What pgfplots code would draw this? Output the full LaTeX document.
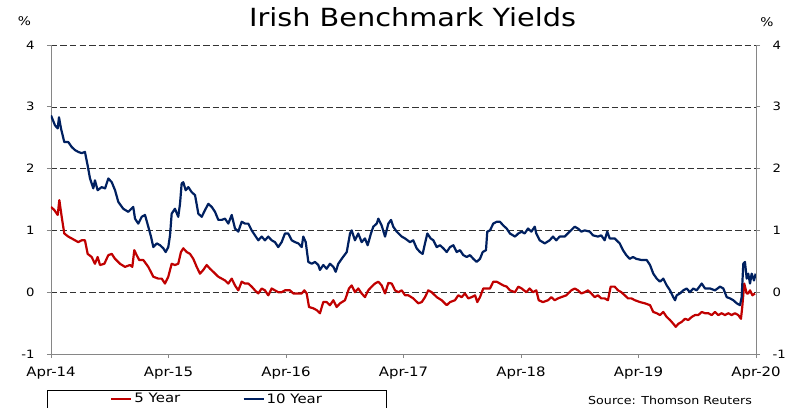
\documentclass[border=0pt]{standalone}
\usepackage{pgfplots}
\pgfplotsset{compat=1.18}
\usepackage{pgfplotstable}
\usepackage{fontspec}
\setmainfont{DejaVu Sans}[FakeStretch=1.15]
\definecolor{fiveyr}{RGB}{192,0,0}
\definecolor{tenyr}{RGB}{0,32,96}
\definecolor{axgrey}{RGB}{134,134,134}

\pgfplotstableread{
x y
0.000 2.86
0.034 2.70
0.057 2.65
0.068 2.83
0.085 2.65
0.113 2.43
0.147 2.43
0.176 2.35
0.204 2.30
0.232 2.27
0.261 2.25
0.289 2.27
0.312 2.05
0.332 1.84
0.360 1.68
0.374 1.81
0.397 1.65
0.431 1.70
0.460 1.68
0.488 1.84
0.517 1.78
0.545 1.65
0.573 1.46
0.615 1.35
0.658 1.30
0.700 1.38
0.715 1.19
0.743 1.11
0.772 1.22
0.800 1.25
0.828 1.06
0.851 0.90
0.871 0.73
0.900 0.79
0.928 0.76
0.956 0.71
0.976 0.65
0.998 0.73
1.013 0.92
1.027 1.27
1.055 1.35
1.083 1.22
1.098 1.43
1.112 1.76
1.126 1.78
1.146 1.65
1.169 1.70
1.197 1.62
1.226 1.57
1.254 1.27
1.283 1.22
1.311 1.33
1.339 1.43
1.368 1.38
1.396 1.30
1.424 1.17
1.453 1.17
1.481 1.19
1.509 1.11
1.538 1.25
1.566 1.03
1.594 0.98
1.623 1.14
1.651 1.11
1.679 1.11
1.708 1.00
1.736 0.92
1.764 0.84
1.793 0.90
1.821 0.84
1.849 0.90
1.878 0.84
1.906 0.81
1.934 0.73
1.963 0.81
1.991 0.95
2.019 0.95
2.049 0.84
2.077 0.81
2.105 0.79
2.134 0.73
2.147 0.90
2.168 0.81
2.190 0.49
2.219 0.46
2.247 0.49
2.275 0.44
2.289 0.36
2.317 0.44
2.346 0.38
2.374 0.46
2.403 0.41
2.423 0.33
2.445 0.46
2.474 0.54
2.517 0.65
2.545 0.95
2.559 1.00
2.587 0.84
2.615 0.95
2.644 0.81
2.672 0.87
2.695 0.76
2.723 0.95
2.743 1.06
2.772 1.11
2.786 1.19
2.814 1.08
2.843 0.90
2.871 1.11
2.894 1.17
2.913 1.06
2.942 0.98
2.985 0.90
3.013 0.87
3.055 0.81
3.083 0.84
3.112 0.71
3.140 0.65
3.163 0.62
3.183 0.79
3.203 0.95
3.231 0.87
3.254 0.84
3.283 0.73
3.311 0.76
3.339 0.71
3.368 0.65
3.396 0.73
3.424 0.76
3.453 0.65
3.481 0.68
3.509 0.60
3.538 0.57
3.566 0.60
3.594 0.54
3.623 0.49
3.651 0.54
3.674 0.65
3.702 0.68
3.713 0.98
3.736 1.00
3.764 1.11
3.793 1.14
3.821 1.14
3.849 1.08
3.878 1.03
3.906 0.95
3.949 0.90
3.977 0.95
4.006 0.98
4.031 0.95
4.060 1.03
4.088 0.98
4.117 1.06
4.130 0.95
4.159 0.84
4.202 0.79
4.244 0.84
4.272 0.90
4.300 0.84
4.329 0.90
4.372 0.90
4.414 0.98
4.457 1.06
4.485 1.03
4.513 0.98
4.542 1.00
4.585 0.98
4.613 0.92
4.655 0.90
4.683 0.92
4.712 0.84
4.734 0.98
4.755 0.87
4.797 0.87
4.840 0.79
4.868 0.68
4.896 0.60
4.925 0.54
4.953 0.57
4.981 0.54
5.027 0.52
5.070 0.52
5.098 0.44
5.126 0.30
5.155 0.22
5.183 0.17
5.211 0.22
5.240 0.11
5.268 0.03
5.296 -0.08
5.311 -0.13
5.325 -0.05
5.353 -0.02
5.381 0.03
5.410 0.06
5.438 0.00
5.466 0.06
5.495 0.03
5.538 0.14
5.566 0.06
5.609 0.06
5.651 0.03
5.694 0.09
5.722 0.06
5.751 -0.08
5.779 -0.10
5.807 -0.13
5.836 -0.18
5.864 -0.21
5.878 -0.08
5.892 0.46
5.906 0.49
5.921 0.22
5.934 0.30
5.949 0.14
5.963 0.30
5.983 0.19
5.997 0.30
}\tenyear

\pgfplotstableread{
x y
0.000 1.38
0.028 1.33
0.057 1.25
0.071 1.49
0.091 1.22
0.113 0.95
0.147 0.90
0.176 0.87
0.204 0.84
0.232 0.81
0.261 0.84
0.289 0.84
0.312 0.62
0.346 0.57
0.374 0.46
0.397 0.57
0.417 0.44
0.454 0.46
0.488 0.60
0.517 0.62
0.545 0.54
0.587 0.46
0.630 0.41
0.672 0.44
0.692 0.41
0.709 0.68
0.729 0.60
0.751 0.52
0.786 0.52
0.828 0.41
0.871 0.25
0.913 0.22
0.942 0.22
0.970 0.14
0.998 0.25
1.027 0.46
1.055 0.44
1.083 0.46
1.106 0.65
1.126 0.71
1.155 0.65
1.183 0.62
1.211 0.54
1.240 0.41
1.268 0.30
1.296 0.36
1.325 0.44
1.353 0.38
1.381 0.33
1.424 0.25
1.453 0.22
1.481 0.19
1.509 0.14
1.538 0.22
1.566 0.11
1.594 0.03
1.623 0.17
1.651 0.14
1.679 0.14
1.708 0.09
1.736 0.03
1.764 -0.02
1.793 0.06
1.821 0.03
1.849 -0.05
1.878 0.06
1.906 0.03
1.934 0.00
1.963 0.00
1.991 0.03
2.034 0.03
2.062 -0.02
2.105 -0.02
2.134 -0.02
2.156 0.03
2.176 -0.02
2.196 -0.24
2.232 -0.26
2.261 -0.29
2.289 -0.34
2.317 -0.16
2.346 -0.16
2.374 -0.21
2.403 -0.13
2.431 -0.24
2.460 -0.18
2.502 -0.13
2.536 0.06
2.559 0.11
2.587 0.00
2.615 0.06
2.644 -0.02
2.672 -0.08
2.700 0.03
2.729 0.09
2.757 0.14
2.786 0.17
2.814 0.11
2.843 -0.02
2.871 0.15
2.900 0.14
2.928 0.03
2.956 0.00
2.985 0.03
3.013 -0.05
3.041 -0.05
3.083 -0.10
3.126 -0.18
3.155 -0.16
3.183 -0.08
3.211 0.03
3.240 0.00
3.283 -0.08
3.325 -0.13
3.368 -0.21
3.396 -0.16
3.438 -0.13
3.466 -0.05
3.495 -0.08
3.523 -0.02
3.551 -0.10
3.580 -0.08
3.609 -0.05
3.628 -0.16
3.651 -0.08
3.679 0.06
3.708 0.06
3.736 0.06
3.764 0.17
3.793 0.17
3.821 0.14
3.849 0.11
3.878 0.09
3.906 0.03
3.949 0.00
3.977 0.09
4.006 0.06
4.045 0.00
4.074 0.06
4.102 0.00
4.130 0.03
4.151 -0.13
4.187 -0.16
4.230 -0.13
4.258 -0.08
4.287 -0.13
4.315 -0.10
4.343 -0.08
4.386 -0.05
4.428 0.03
4.457 0.06
4.485 0.03
4.513 -0.02
4.542 0.00
4.570 0.03
4.598 -0.02
4.627 -0.08
4.655 -0.05
4.683 -0.10
4.712 -0.10
4.740 -0.13
4.763 0.09
4.797 0.09
4.826 0.03
4.854 0.00
4.883 -0.05
4.911 -0.10
4.939 -0.10
4.970 -0.13
5.013 -0.16
5.055 -0.18
5.098 -0.21
5.126 -0.32
5.155 -0.34
5.183 -0.37
5.211 -0.32
5.240 -0.40
5.268 -0.45
5.296 -0.51
5.317 -0.56
5.340 -0.51
5.368 -0.48
5.396 -0.43
5.424 -0.45
5.453 -0.40
5.481 -0.37
5.509 -0.37
5.538 -0.32
5.566 -0.34
5.594 -0.34
5.623 -0.37
5.651 -0.32
5.679 -0.37
5.708 -0.34
5.736 -0.37
5.764 -0.34
5.793 -0.37
5.821 -0.34
5.849 -0.37
5.872 -0.43
5.883 -0.24
5.900 0.14
5.921 -0.02
5.934 -0.02
5.949 0.03
5.970 -0.05
5.991 -0.02
}\fiveyear

\begin{document}
\begin{tikzpicture}[x=1pt,y=1pt]
\path[use as bounding box] (0,0) rectangle (792,407);
\begin{axis}[
  at={(51pt,53pt)}, anchor=south west,
  width=705pt, height=309pt, scale only axis,
  xmin=0, xmax=6, ymin=-1, ymax=4,
  axis x line*=bottom, axis y line*=left,
  axis line style={axgrey, line width=0.9pt},
  xtick={0,1,2,3,4,5,6},
  xticklabels={Apr-14,Apr-15,Apr-16,Apr-17,Apr-18,Apr-19,Apr-20},
  ytick={0,1,2,3,4},
  extra y ticks={-1},
  extra y tick style={grid=none},
  tick align=outside, major tick length=4pt,
  tick style={axgrey, line width=0.9pt},
  ymajorgrids,
  major grid style={black!80, line width=0.6pt, dash pattern=on 6.5pt off 3pt},
  /pgf/number format/assume math mode=true,
  xticklabel style={font=\fontsize{13}{15}\selectfont, yshift=-5pt},
  yticklabel style={font=\fontsize{11.5}{14}\selectfont, xshift=-9pt},
  legend style={at={(axis description cs:0.0837,-0.1456)}, anchor=west,
    draw=none, fill=none, legend columns=2, inner sep=0pt,
    font=\fontsize{13}{15}\selectfont},
  legend cell align=left,
  legend image code/.code={\draw[#1] (0pt,0pt) -- (20pt,0pt);},
]
\addplot[fiveyr, line width=2.2pt, line join=round] table {\fiveyear};
\addlegendentry{\makebox[106pt][l]{5 Year}}
\addplot[tenyr, line width=2.2pt, line join=round] table {\tenyear};
\addlegendentry{10 Year}
\end{axis}
\begin{axis}[
  at={(51pt,53pt)}, anchor=south west,
  width=705pt, height=309pt, scale only axis,
  xmin=0, xmax=6, ymin=-1, ymax=4,
  axis x line=none, axis y line*=right,
  axis line style={axgrey, line width=0.9pt},
  ytick={-1,0,1,2,3,4},
  tick align=outside, major tick length=4pt,
  tick style={axgrey, line width=0.9pt},
  /pgf/number format/assume math mode=true,
  yticklabel style={font=\fontsize{11.5}{14}\selectfont, xshift=9pt},
]
\addplot[draw=none] coordinates {(0,0)};
\end{axis}
\node[anchor=base, font=\fontsize{25}{30}\selectfont] at (412.5,380) {Irish Benchmark Yields};
\node[font=\fontsize{12}{14}\selectfont] at (24.5,385.5) {\%};
\node[font=\fontsize{12}{14}\selectfont] at (767,385) {\%};
\node[anchor=base west, inner sep=0pt, font=\fontsize{11}{13}\selectfont] at (588,3) {Source: Thomson Reuters};
\draw[black, line width=0.8pt] (47.7,17) rectangle (386.7,-6);
\end{tikzpicture}
\end{document}
